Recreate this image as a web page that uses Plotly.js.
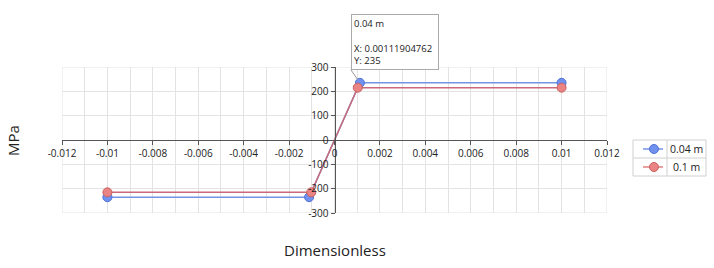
<!DOCTYPE html>
<html>
<head>
<meta charset="utf-8">
<script src="https://cdn.plot.ly/plotly-3.0.1.min.js"></script>
<style>html,body{margin:0;padding:0;background:#fff;}#chart{width:714px;height:268px;}</style>
</head>
<body>
<div id="chart"></div>
<script>
var seriesNames = ["0.04 m", "0.1 m"];
var x004 = [-0.01, -0.00111904762, 0.00111904762, 0.01];
var y004 = [-235, -235, 235, 235];
var x01 = [-0.01, -0.00102380952, 0.00102380952, 0.01];
var y01 = [-215, -215, 215, 215];
var xTicks = [-0.012, -0.01, -0.008, -0.006, -0.004, -0.002, 0, 0.002, 0.004, 0.006, 0.008, 0.01, 0.012];
var xTickLabels = ["-0.012", "-0.01", "-0.008", "-0.006", "-0.004", "-0.002", "0", "0.002", "0.004", "0.006", "0.008", "0.01", "0.012"];
var yTicks = [-300, -200, -100, 0, 100, 200, 300];
var yTickLabels = ["-300", "-200", "-100", "0", "100", "200", "300"];
var xTitle = "Dimensionless";
var yTitle = "MPa";
var tipText = "0.04 m<br> <br>X: 0.00111904762<br>Y: 235";

var font = "Open Sans, DejaVu Sans, sans-serif";
var lineColors = ["#7393e6", "#c86a78"];
var legendLineColors = ["#7393e6", "#e08080"];
var markerColors = ["#7092ee", "#ea8484"];
var markerLineColors = ["#4f70d6", "#c96060"];

var traces = [
  {x: x004, y: y004, name: seriesNames[0], mode: "lines+markers", type: "scatter",
   line: {color: lineColors[0], width: 1.5},
   marker: {size: 9, color: markerColors[0], line: {color: markerLineColors[0], width: 1}}},
  {x: x01, y: y01, name: seriesNames[1], mode: "lines+markers", type: "scatter",
   line: {color: lineColors[1], width: 1.5},
   marker: {size: 9, color: markerColors[1], line: {color: markerLineColors[1], width: 1}}}
];

// legend table geometry (paper coords)
var lgX0 = 1.0477, lgX1 = 1.1817, lgDiv = 1.1101, lgTop = 0.5, lgMid = 0.3767, lgBot = 0.2534;
var rowY = [0.4384, 0.3151];
var shapes = [
  {type: "rect", xref: "x", yref: "y", x0: -0.012, x1: 0.012, y0: -300, y1: 300,
   line: {color: "#e3e3e3", width: 1}, layer: "below"},
  {type: "rect", xref: "paper", yref: "paper", x0: lgX0, x1: lgX1, y0: lgBot, y1: lgTop,
   line: {color: "#d0d0d0", width: 1}, fillcolor: "#fff"},
  {type: "line", xref: "paper", yref: "paper", x0: lgDiv, x1: lgDiv, y0: lgBot, y1: lgTop,
   line: {color: "#d0d0d0", width: 1}},
  {type: "line", xref: "paper", yref: "paper", x0: lgX0, x1: lgX1, y0: lgMid, y1: lgMid,
   line: {color: "#d0d0d0", width: 1}}
];
var annotations = [
  {text: xTitle, xref: "paper", yref: "paper", x: 0.5, y: -0.253, xanchor: "center", yanchor: "middle",
   showarrow: false, font: {family: font, size: 15, color: "#222"}},
  {text: yTitle, xref: "paper", yref: "paper", x: -0.09, y: 0.5, textangle: -90,
   xanchor: "center", yanchor: "middle",
   showarrow: false, font: {family: font, size: 15, color: "#222"}},
  {text: tipText, xref: "x", yref: "y", x: x004[2], y: y004[2],
   ax: -9, ay: -13, axref: "pixel", ayref: "pixel", yanchor: "bottom", xanchor: "left",
   showarrow: true, arrowhead: 0, arrowwidth: 1, arrowcolor: "#999", standoff: 3,
   width: 82, height: 50, valign: "top",
   align: "left", bgcolor: "#fff", bordercolor: "#aaa", borderwidth: 1, borderpad: 2,
   font: {family: font, size: 9.5, color: "#222"}}
];
for (var i = 0; i < seriesNames.length; i++) {
  shapes.push({type: "line", xref: "paper", yref: "paper", x0: 1.0661, x1: 1.1028, y0: rowY[i], y1: rowY[i],
    line: {color: legendLineColors[i], width: 1.5}});
  shapes.push({type: "circle", xref: "paper", yref: "paper", xsizemode: "pixel", ysizemode: "pixel",
    xanchor: 1.0862, yanchor: rowY[i], x0: -4.5, x1: 4.5, y0: -4.5, y1: 4.5,
    fillcolor: markerColors[i], line: {color: markerLineColors[i], width: 1}});
  annotations.push({text: seriesNames[i], xref: "paper", yref: "paper", x: 1.1459, y: rowY[i],
    showarrow: false, xanchor: "center", yanchor: "middle",
    font: {family: font, size: 10.5, color: "#222"}});
}

var layout = {
  width: 714, height: 268,
  margin: {l: 62, r: 107, t: 67, b: 55},
  paper_bgcolor: "#fff", plot_bgcolor: "#fff",
  font: {family: font, size: 10, color: "#222"},
  showlegend: false,
  xaxis: {range: [-0.012, 0.012], tickmode: "array", tickvals: xTicks, ticktext: xTickLabels,
    anchor: "free", position: 0.5, showline: true, linecolor: "#555", linewidth: 1,
    ticks: "outside", ticklen: 4, tickcolor: "#555",
    showgrid: true, gridcolor: "#e3e3e3", zeroline: false,
    minor: {dtick: 0.001, showgrid: true, gridcolor: "#e3e3e3", ticks: ""},
    tickfont: {family: font, size: 10, color: "#222"}, fixedrange: true},
  yaxis: {range: [-300, 300], tickmode: "array", tickvals: yTicks, ticktext: yTickLabels,
    anchor: "free", position: 0.5, showline: true, linecolor: "#555", linewidth: 1,
    ticks: "outside", ticklen: 4, tickcolor: "#555",
    showgrid: true, gridcolor: "#e3e3e3", zeroline: false,
    tickfont: {family: font, size: 10, color: "#222"}, fixedrange: true},
  shapes: shapes,
  annotations: annotations
};

Plotly.newPlot("chart", traces, layout, {displayModeBar: false, staticPlot: true});
</script>
</body>
</html>
